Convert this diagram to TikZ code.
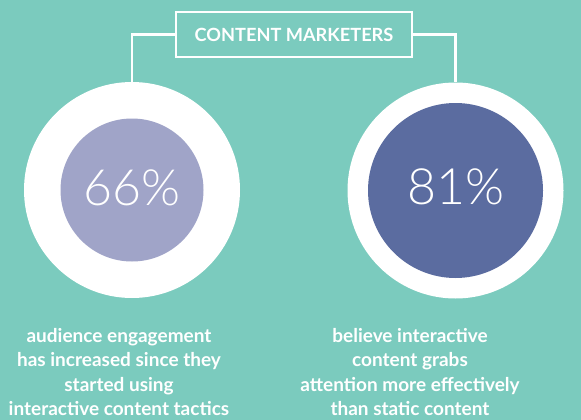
\documentclass[tikz,border=0pt]{standalone}
\usepackage{fontspec}
\setmainfont{Lato}
\newfontfamily\numfont{Lato Light}
\definecolor{bgteal}{HTML}{7BCBBE}
\definecolor{lavender}{HTML}{A0A4C8}
\definecolor{slateblue}{HTML}{5B6CA0}
\begin{document}
\begin{tikzpicture}[x=1pt,y=-1pt,
  outer/.style={circle,fill=white,minimum size=216pt,inner sep=0pt},
  inner/.style={circle,inner sep=0pt},
  numtext/.style={inner sep=0pt,text=white,font=\numfont\fontsize{50}{60}\selectfont},
  caption/.style={align=center,text=white,font=\bfseries\fontsize{19}{24.5}\selectfont,inner sep=0pt},
  link/.style={draw=white,line width=2.7pt}]
\fill[bgteal] (0,0) rectangle (581,420);
\useasboundingbox (0,0) rectangle (581,420);
\node[draw=white,line width=2.7pt,minimum width=236pt,minimum height=45pt,inner sep=0pt,
  text=white,font=\bfseries\fontsize{18.2}{22}\selectfont] (title) at (294,34.5) {CONTENT MARKETERS};
\node[outer] (lo) at (132,190) {};
\node[outer] (ro) at (455.5,190.5) {};
\draw[link] (title.west) -| (lo.north);
\draw[link] (title.east) -| (ro.north);
\node[inner,fill=lavender,minimum size=143pt] (li) at (132,190) {};
\node[inner,fill=slateblue,minimum size=175pt] (ri) at (455.5,190.5) {};
\node[numtext] (ln) at ([yshift=2.5pt]li.center) {66\%};
\node[numtext] (rn) at ([yshift=3.5pt]ri.center) {81\%};
\node[caption] (lt) at (119,372.2) {audience engagement\\has increased since they\\started using\\interactive content tactics};
\node[caption] (rt) at (410,372.2) {believe interactive\\content grabs\\attention more effectively\\than static content};
\end{tikzpicture}
\end{document}
